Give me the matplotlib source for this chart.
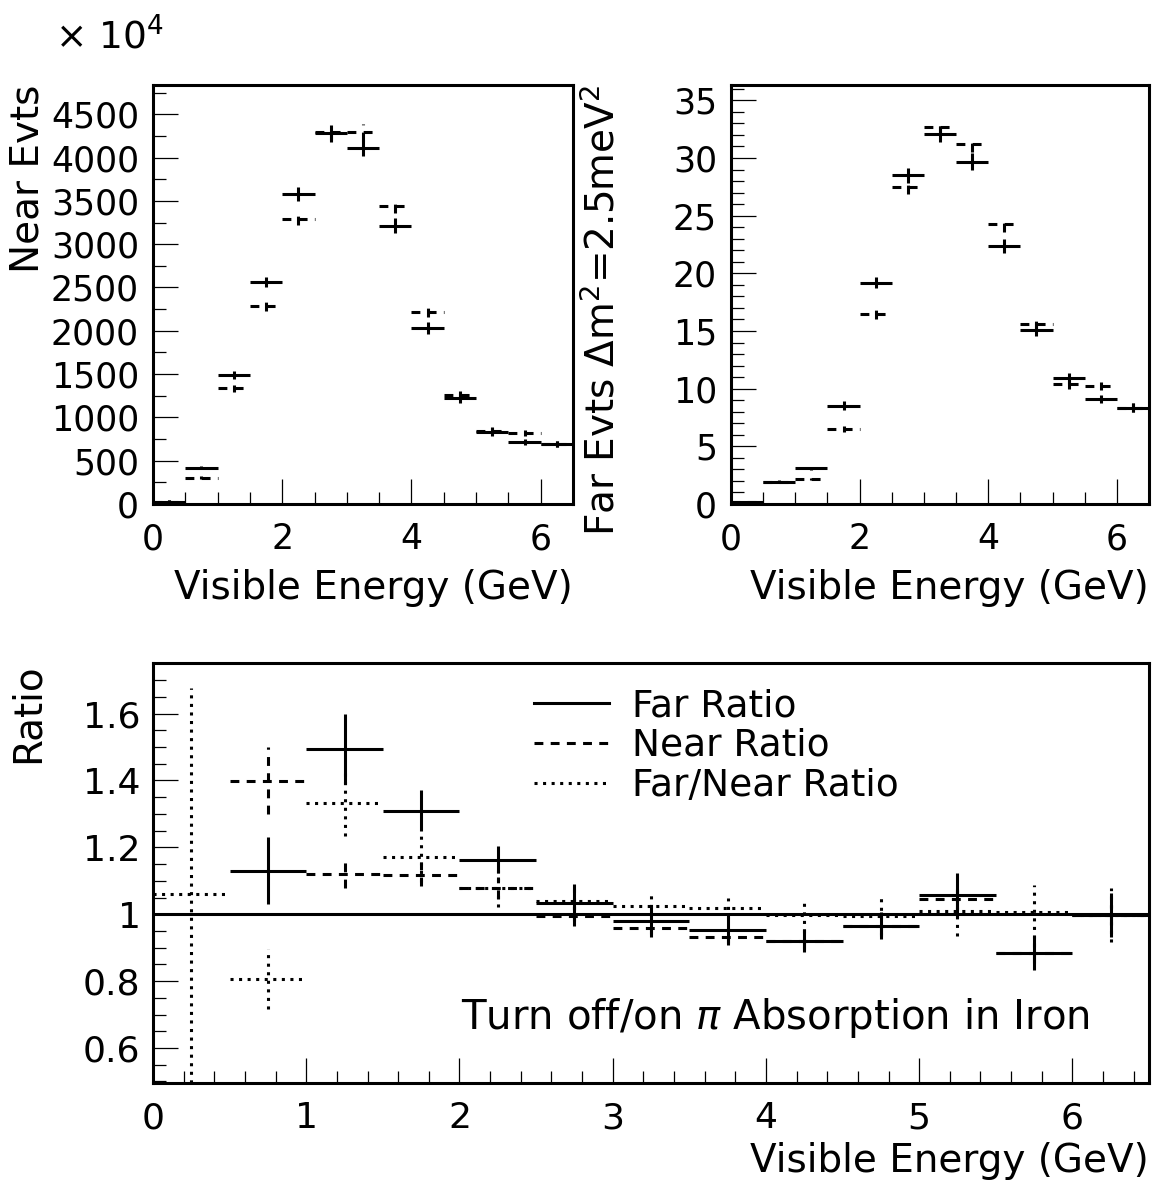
import numpy as np
import matplotlib
matplotlib.use('Agg')
import matplotlib.pyplot as plt
from matplotlib.lines import Line2D
from matplotlib.ticker import MultipleLocator

plt.rcParams['font.family'] = ['DejaVu Sans']
plt.rcParams['mathtext.fontset'] = 'dejavusans'

# bin edges, 0.5 GeV wide
edges = np.arange(0.0, 6.51, 0.5)

# near detector events (solid = nominal, dashed = pi absorption off)
near_on = [25, 419, 1490, 2563, 3576, 4280, 4114, 3214, 2032, 1224, 835, 720, 693]
near_on_err = [20, 20, 46, 58, 83, 100, 92, 83, 64, 58, 46, 35, 35]
near_off = [25, 304, 1336, 2286, 3295, 4292, 4292, 3441, 2213, 1259, 847, 816, 693]
near_off_err = [20, 20, 38, 58, 73, 90, 100, 81, 58, 50, 46, 35, 35]

# far detector events, dm^2 = 2.5 meV^2
far_on = [0.15, 1.94, 3.09, 8.53, 19.19, 28.5, 32.05, 29.68, 22.37, 15.12, 10.90, 9.08, 8.35]
far_on_err = [0.0, 0.1, 0.1, 0.36, 0.49, 0.65, 0.7, 0.72, 0.64, 0.58, 0.46, 0.35, 0.4]
far_off = [0.15, 1.90, 2.14, 6.50, 16.45, 27.5, 32.66, 31.21, 24.28, 15.64, 10.38, 10.20, 8.35]
far_off_err = [0.0, 0.1, 0.1, 0.3, 0.43, 0.58, 0.7, 0.72, 0.69, 0.55, 0.43, 0.35, 0.4]

# ratios (off/on)
far_ratio = [np.nan, 1.130, 1.494, 1.310, 1.163, 1.035, 0.981, 0.953, 0.921, 0.966, 1.057, 0.884, 0.998]
far_ratio_err = [np.nan, 0.10, 0.105, 0.06, 0.04, 0.055, 0.04, 0.04, 0.035, 0.04, 0.065, 0.052, 0.065]
near_ratio = [np.nan, 1.399, 1.119, 1.118, 1.078, 0.995, 0.958, 0.933, 0.921, 0.966, 1.045, 0.884, 0.998]
near_ratio_err = [np.nan, 0.10, 0.04, 0.035, 0.033, 0.03, 0.025, 0.025, 0.025, 0.025, 0.03, 0.03, 0.03]
fn_ratio = [1.06, 0.807, 1.333, 1.172, 1.078, 1.040, 1.026, 1.020, 0.998, 0.995, 1.011, 1.008, 0.998]
fn_ratio_err = [0.615, 0.09, 0.10, 0.075, 0.055, 0.05, 0.03, 0.03, 0.05, 0.06, 0.075, 0.08, 0.08]

LW = 2.2
DASH = (0, (2.9, 2.4))
DOT = (0, (1.0, 1.8))
TICKFS = 25
LABFS = 28

lo = edges[:-1]
hi = edges[1:]
mid = 0.5 * (lo + hi)


def hist_err(ax, y, yerr, ls):
    y = np.asarray(y, dtype=float)
    yerr = np.asarray(yerr, dtype=float)
    ax.hlines(y, lo, hi, colors='black', linestyles=[ls], linewidth=LW)
    ax.vlines(mid, y - yerr, y + yerr, colors='black', linestyles=[ls], linewidth=LW)


def style(ax, fs):
    for s in ax.spines.values():
        s.set_linewidth(2.2)
    ax.tick_params(which='both', direction='in', top=False, right=False,
                   labelsize=fs, width=0.9)
    ax.tick_params(which='major', length=18)
    ax.tick_params(which='minor', length=9)


fig = plt.figure(figsize=(11.58, 11.85), dpi=100)
W, H = 1158.0, 1185.0

# ---- near events
ax1 = fig.add_axes([153 / W, 1 - 504 / H, 420 / W, 419 / H])
hist_err(ax1, near_off, near_off_err, DASH)
hist_err(ax1, near_on, near_on_err, 'solid')
ax1.set_xlim(0, 6.5)
ax1.set_ylim(0, 4838)
ax1.xaxis.set_major_locator(MultipleLocator(2))
ax1.xaxis.set_minor_locator(MultipleLocator(0.5))
ax1.yaxis.set_major_locator(MultipleLocator(500))
ax1.yaxis.set_minor_locator(MultipleLocator(250))
style(ax1, TICKFS)
ax1.tick_params(axis='x', pad=13)
ax1.tick_params(axis='y', pad=10)
ax1.set_xlabel('Visible Energy (GeV)', fontsize=LABFS, loc='right', labelpad=9)

# ---- far events
ax2 = fig.add_axes([731 / W, 1 - 504 / H, 418 / W, 419 / H])
hist_err(ax2, far_off, far_off_err, DASH)
hist_err(ax2, far_on, far_on_err, 'solid')
ax2.set_xlim(0, 6.5)
ax2.set_ylim(0, 36.33)
ax2.xaxis.set_major_locator(MultipleLocator(2))
ax2.xaxis.set_minor_locator(MultipleLocator(0.5))
ax2.yaxis.set_major_locator(MultipleLocator(5))
ax2.yaxis.set_minor_locator(MultipleLocator(1))
style(ax2, TICKFS)
ax2.tick_params(axis='x', pad=13)
ax2.tick_params(axis='y', pad=10)
ax2.set_xlabel('Visible Energy (GeV)', fontsize=LABFS, loc='right', labelpad=9)

# ---- ratios
ax3 = fig.add_axes([153 / W, 1 - 1083 / H, 996 / W, 420 / H])
hist_err(ax3, fn_ratio, fn_ratio_err, DOT)
hist_err(ax3, near_ratio, near_ratio_err, DASH)
hist_err(ax3, far_ratio, far_ratio_err, 'solid')
ax3.axhline(1.0, color='black', linewidth=2.2)
ax3.set_xlim(0, 6.5)
ax3.set_ylim(0.4955, 1.751)
ax3.xaxis.set_major_locator(MultipleLocator(1))
ax3.xaxis.set_minor_locator(MultipleLocator(0.2))
ax3.yaxis.set_major_locator(MultipleLocator(0.2))
ax3.yaxis.set_minor_locator(MultipleLocator(0.05))
ax3.yaxis.set_major_formatter(lambda v, p: '1' if abs(v - 1) < 1e-9 else f'{v:.1f}')
style(ax3, 26)
ax3.tick_params(axis='x', pad=13)
ax3.tick_params(axis='y', pad=9)
ax3.set_xlabel('Visible Energy (GeV)', fontsize=LABFS, loc='right', labelpad=5)

handles = [Line2D([], [], color='black', lw=LW, ls='solid'),
           Line2D([], [], color='black', lw=LW, ls=DASH),
           Line2D([], [], color='black', lw=LW, ls=DOT)]
ax3.legend(handles, ['Far Ratio', 'Near Ratio', 'Far/Near Ratio'],
           loc='upper left', bbox_to_anchor=(0.383, 0.94), frameon=False,
           fontsize=27, handlelength=2.0, handletextpad=0.6, labelspacing=0.1,
           borderpad=0, borderaxespad=0)
ax3.text(2.01, 0.69, r'Turn off/on $\pi$ Absorption in Iron', fontsize=29,
         ha='left', va='center')

# ---- axis titles (ROOT style, aligned to top)
fig.text(28 / W, 1 - 85 / H, 'Near Evts', rotation=90, fontsize=LABFS,
         ha='center', va='top')
fig.text(603 / W, 1 - 85 / H, r'Far Evts $\Delta$m$^{2}$=2.5meV$^{2}$', rotation=90,
         fontsize=LABFS, ha='center', va='top')
fig.text(28 / W, 1 - 663 / H, 'Ratio', rotation=90, fontsize=LABFS,
         ha='center', va='top')
fig.text(55 / W, 1 - 48 / H, r'× 10$^{4}$', fontsize=27, ha='left', va='baseline')

fig.savefig('out.png', dpi=100)
